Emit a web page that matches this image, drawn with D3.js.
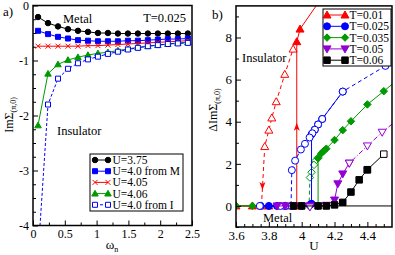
<!DOCTYPE html>
<html>
<head>
<meta charset="utf-8">
<script src="https://cdn.jsdelivr.net/npm/d3@7"></script>
<style>
body { margin: 0; background: #fff; }
svg text { font-family: "Liberation Serif", "Times New Roman", serif; fill: #000; }
</style>
</head>
<body>
<div id="chart"></div>
<script>
// ---- panel a: Im Sigma(pi,0) vs Matsubara frequency, T=0.025
var omegaN = [0.079, 0.236, 0.393, 0.550, 0.707, 0.864, 1.021, 1.178, 1.335, 1.492, 1.649, 1.806, 1.963, 2.120, 2.278, 2.435];
var imU375 = [-0.21, -0.32, -0.38, -0.43, -0.46, -0.48, -0.50, -0.50, -0.51, -0.51, -0.51, -0.51, -0.51, -0.51, -0.51, -0.51];
var imU40M = [-0.46, -0.52, -0.57, -0.60, -0.63, -0.64, -0.65, -0.65, -0.65, -0.64, -0.64, -0.63, -0.62, -0.61, -0.61, -0.60];
var imU405 = [-0.74, -0.74, -0.74, -0.74, -0.74, -0.73, -0.73, -0.72, -0.71, -0.70, -0.69, -0.68, -0.67, -0.66, -0.65, -0.64];
var imU406 = [-2.18, -1.24, -1.07, -0.99, -0.94, -0.90, -0.87, -0.85, -0.82, -0.79, -0.76, -0.74, -0.72, -0.70, -0.68, -0.67];
var imU40I = [-4.55, -1.80, -1.33, -1.15, -1.05, -0.98, -0.93, -0.88, -0.84, -0.80, -0.77, -0.74, -0.72, -0.70, -0.69, -0.68];
var aLabels = ["U=3.75", "U=4.0 from M", "U=4.05", "U=4.06", "U=4.0 from I"];
var aXTicks = [0, 0.5, 1, 1.5, 2, 2.5];
var aYTicks = [-4, -3, -2, -1, 0];

// ---- panel b: Delta Im Sigma(pi,0) vs U, [U, value] pairs
var t001Up = [[3.6, 0], [3.7, 0], [3.8, 0], [3.9, 0], [3.97, 0], [3.97, 7.8], [3.99, 8.4], [4.15, 10.2]];
var t001Down = [[3.755, 0], [3.775, 2.82], [3.80, 3.6], [3.818, 4.18], [3.845, 4.95], [3.897, 6.25], [3.948, 7.45]];
var t0025Up = [[3.75, 0], [3.8, 0], [3.85, 0], [3.9, 0], [3.95, 0], [4.0, 0], [4.05, 0.05], [4.06, 0.1], [4.06, 3.4], [4.08, 3.62], [4.1, 3.87], [4.125, 4.13], [4.25, 5.43]];
var t0025Down = [[4.51, 6.65], [4.25, 5.43], [4.125, 4.13], [4.1, 3.87], [4.08, 3.62], [4.065, 3.45], [4.048, 3.25], [4.02, 2.95], [3.995, 2.68], [3.96, 2.15], [3.94, 1.7], [3.935, 0], [3.9, 0], [3.87, 0], [3.745, 0]];
var t0035Up = [[3.6, 0], [3.7, 0], [3.8, 0], [3.85, 0], [3.9, 0], [3.95, 0], [4.0, 0], [4.05, 0], [4.1, 0], [4.1, 2.26], [4.12, 2.5], [4.135, 2.62], [4.15, 2.72], [4.2, 3.13], [4.25, 3.6], [4.3, 4.02], [4.4, 4.82], [4.5, 5.45], [4.6, 6.1]];
var t0035Down = [[4.1, 2.3], [4.085, 2.15], [4.075, 1.95], [4.06, 1.6], [4.05, 1.35], [4.045, 0]];
var t005Up = [[3.85, 0], [3.9, 0], [3.95, 0], [4.0, 0], [4.05, 0], [4.1, 0], [4.15, 0.03], [4.2, 0.28], [4.22, 1.05], [4.25, 1.52], [4.29, 2.03]];
var t005Down = [[4.6, 4.2], [4.49, 3.5], [4.4, 2.85], [4.29, 2.03]];
var t005Lone = [[4.05, -0.05]];
var t006Up = [[3.95, 0], [4.0, 0], [4.1, 0], [4.15, 0], [4.2, 0.05], [4.25, 0.17], [4.3, 0.66], [4.35, 1.24], [4.4, 1.72]];
var t006Down = [[4.5, 2.46], [4.4, 1.72]];
var bLabels = ["T=0.01", "T=0.025", "T=0.035", "T=0.05", "T=0.06"];
var bXTicks = [3.6, 3.8, 4, 4.2, 4.4];
var bYTicks = [0, 2, 4, 6, 8];
var hysteresisArrows = [[3.97, 3.95, "up"], [3.761, 0.76, "down"]];

var green = "#009a00", violet = "#9400d3";

var svg = d3.select("#chart").append("svg")
  .attr("width", 395)
  .attr("height", 255);

// marker shapes, roughly like xmgrace symbols
function markerPath(type, cx, cy, s) {
  var r = s / 2;
  if (type == "circle") {
    return "M" + (cx + r) + "," + cy + "A" + r + "," + r + " 0 1,1 " + (cx - r) + "," + cy + "A" + r + "," + r + " 0 1,1 " + (cx + r) + "," + cy + "Z";
  }
  if (type == "square") return "M" + (cx - r) + "," + (cy - r) + "h" + s + "v" + s + "h" + (-s) + "Z";
  if (type == "diamond") return "M" + cx + "," + (cy - r) + "L" + (cx + r) + "," + cy + "L" + cx + "," + (cy + r) + "L" + (cx - r) + "," + cy + "Z";
  if (type == "triUp") return "M" + cx + "," + (cy - r) + "L" + (cx + r) + "," + (cy + r * 0.75) + "L" + (cx - r) + "," + (cy + r * 0.75) + "Z";
  if (type == "triDown") return "M" + cx + "," + (cy + r) + "L" + (cx + r) + "," + (cy - r * 0.75) + "L" + (cx - r) + "," + (cy - r * 0.75) + "Z";
  // cross
  return "M" + (cx - r) + "," + (cy - r) + "L" + (cx + r) + "," + (cy + r) + "M" + (cx - r) + "," + (cy + r) + "L" + (cx + r) + "," + (cy - r);
}

function drawSeries(g, pts, x, y, st) {
  g.append("path")
    .datum(pts)
    .attr("fill", "none")
    .attr("stroke", st.color)
    .attr("stroke-width", 1)
    .attr("stroke-dasharray", st.dash || null)
    .attr("d", d3.line().x(d => x(d[0])).y(d => y(d[1])));
  g.selectAll(null)
    .data(pts)
    .enter()
    .append("path")
    .attr("d", d => markerPath(st.mark, x(d[0]), y(d[1]), st.size))
    .attr("fill", st.mark == "cross" ? "none" : (st.fill ? st.color : "#fff"))
    .attr("stroke", st.color)
    .attr("stroke-width", 1);
}

function drawAxes(x, y, xMaj, xMin, yMaj, yMin, fs) {
  var x0 = x.range()[0], x1 = x.range()[1], y0 = y.range()[0], y1 = y.range()[1];
  var fmt = d => String(d);
  [[xMin, 3, ""], [xMaj, 5, fmt]].forEach(function(t) {
    svg.append("g")
      .attr("transform", "translate(0," + y0 + ")")
      .call(d3.axisBottom(x).tickValues(t[0]).tickSize(-t[1]).tickPadding(4).tickFormat(t[2] || (() => "")))
      .call(a => a.select(".domain").remove())
      .attr("font-family", "Liberation Serif")
      .attr("font-size", fs);
  });
  [[yMin, 3, ""], [yMaj, 5, fmt]].forEach(function(t) {
    svg.append("g")
      .attr("transform", "translate(" + x0 + ",0)")
      .call(d3.axisLeft(y).tickValues(t[0]).tickSize(-t[1]).tickPadding(4).tickFormat(t[2] || (() => "")))
      .call(a => a.select(".domain").remove())
      .attr("font-family", "Liberation Serif")
      .attr("font-size", fs);
  });
  svg.append("rect")
    .attr("x", x0).attr("y", y1)
    .attr("width", x1 - x0).attr("height", y0 - y1)
    .attr("fill", "none")
    .attr("stroke", "#000")
    .attr("stroke-width", 1.5);
}

function clipFor(id, x, y) {
  svg.append("clipPath").attr("id", id)
    .append("rect")
    .attr("x", x.range()[0]).attr("y", y.range()[1])
    .attr("width", x.range()[1] - x.range()[0])
    .attr("height", y.range()[0] - y.range()[1]);
  return svg.append("g").attr("clip-path", "url(#" + id + ")");
}

function addText(x, y, s, size, anchor) {
  return svg.append("text").attr("x", x).attr("y", y)
    .attr("font-size", size).attr("text-anchor", anchor || "start").text(s);
}

function legend(entries, bx, by, bw, bh, lx0, lx1, rowY, dy, fs) {
  svg.append("rect").attr("x", bx).attr("y", by).attr("width", bw).attr("height", bh)
    .attr("fill", "#fff").attr("stroke", "#000").attr("stroke-width", 1);
  entries.forEach(function(e, i) {
    var yy = rowY + i * dy;
    var g = svg.append("g");
    var lx = d3.scaleLinear().range([lx0, lx1]);
    drawSeries(g, [[0, yy], [1, yy]], lx, v => v, e.st);
    addText(lx1 + 4.5, yy + 4, e.label, fs);
  });
}

// ================= panel a =================
var ax = d3.scaleLinear().domain([0, 2.5]).range([33, 192]);
var ay = d3.scaleLinear().domain([-4, 0]).range([225.5, 5.5]);

var aStyles = [
  {color: "#000", mark: "circle", size: 5.5, fill: true},
  {color: "#0000ff", mark: "square", size: 5, fill: true},
  {color: "#ff0000", mark: "cross", size: 5},
  {color: green, mark: "triUp", size: 6.5, fill: true},
  {color: "#0000ff", mark: "square", size: 5, fill: false, dash: "3,2"}
];
var aValues = [imU375, imU40M, imU405, imU406, imU40I];

var ga = clipFor("clipA", ax, ay);
aValues.forEach(function(vals, i) {
  var pts = vals.map((v, j) => [omegaN[j], v]);
  drawSeries(ga, pts, ax, ay, aStyles[i]);
});

drawAxes(ax, ay, aXTicks, d3.range(0.25, 2.5, 0.5), aYTicks, d3.range(-3.75, 0, 0.25).filter(v => Math.abs(v - Math.round(v)) > 0.01), 12);

addText(63, 23, "Metal", 12.5);
addText(186, 22, "T=0.025", 12.5, "end");
addText(57, 135, "Insulator", 12.5);
addText(3, 16, "a)", 13);

legend(aLabels.map((l, i) => ({label: l, st: aStyles[i]})), 90, 154, 93, 57, 95, 108, 160, 11.2, 11.5);

var aYLab = svg.append("text").attr("transform", "translate(13,115) rotate(-90)")
  .attr("text-anchor", "middle").attr("font-size", 12);
aYLab.append("tspan").text("ImΣ");
aYLab.append("tspan").attr("font-size", 8).attr("dy", 3).text("(π,0)");

var aXLab = svg.append("text").attr("x", 112).attr("y", 249).attr("text-anchor", "middle").attr("font-size", 13);
aXLab.append("tspan").text("ω");
aXLab.append("tspan").attr("font-size", 8).attr("dy", 3).text("n");

// ================= panel b =================
var bx = d3.scaleLinear().domain([3.6, 4.55]).range([236, 392]);
var by = d3.scaleLinear().domain([-1, 9.5]).range([227, 5.9]);

var gb = clipFor("clipB", bx, by);
gb.append("line")
  .attr("x1", bx(3.6)).attr("x2", bx(4.55))
  .attr("y1", by(0)).attr("y2", by(0))
  .attr("stroke", "#000").attr("stroke-width", 1);

var dash = "4,3";
var bStyles = [
  {color: "#ff0000", mark: "triUp", size: 8, fill: true},
  {color: "#0000ff", mark: "circle", size: 7, fill: true},
  {color: green, mark: "diamond", size: 7.5, fill: true},
  {color: violet, mark: "triDown", size: 8, fill: true},
  {color: "#000", mark: "square", size: 6.5, fill: true}
];
function openOf(st, d) { return Object.assign({}, st, {fill: false, dash: d}); }

drawSeries(gb, t001Down, bx, by, openOf(bStyles[0], dash));
drawSeries(gb, t001Up, bx, by, bStyles[0]);
drawSeries(gb, t0035Down, bx, by, openOf(bStyles[2], dash));
drawSeries(gb, t0035Up, bx, by, bStyles[2]);
drawSeries(gb, t0025Up, bx, by, bStyles[1]);
drawSeries(gb, t0025Down, bx, by, openOf(bStyles[1], dash));
drawSeries(gb, t005Up, bx, by, bStyles[3]);
drawSeries(gb, t005Down, bx, by, openOf(bStyles[3], "5,2,1,2"));
drawSeries(gb, t005Lone, bx, by, openOf(bStyles[3], null));
drawSeries(gb, t006Down, bx, by, openOf(bStyles[4], null));
drawSeries(gb, t006Up, bx, by, bStyles[4]);

// hysteresis arrows
gb.selectAll(null)
  .data(hysteresisArrows)
  .enter()
  .append("path")
  .attr("fill", "#ff0000")
  .attr("d", function(d) {
    var px = bx(d[0]), py = by(d[1]), s = d[2] == "up" ? 1 : -1;
    return "M" + px + "," + py + "L" + (px + 3) + "," + (py + 8 * s) + "L" + px + "," + (py + 6 * s) + "L" + (px - 3) + "," + (py + 8 * s) + "Z";
  });

drawAxes(bx, by, bXTicks, d3.range(3.65, 4.55, 0.05).filter(v => Math.abs(v * 5 - Math.round(v * 5)) > 0.01), bYTicks, [-1, 1, 3, 5, 7, 9], 13);

addText(242, 62, "Insulator", 12.5);
addText(263, 222, "Metal", 12.5);
addText(212, 19, "b)", 13);

legend(bLabels.map((l, i) => ({label: l, st: bStyles[i]})), 323, 9, 68, 57, 327, 345, 15, 11.3, 11.5);

var bYLab = svg.append("text").attr("transform", "translate(217,110) rotate(-90)")
  .attr("text-anchor", "middle").attr("font-size", 12);
bYLab.append("tspan").text("ΔImΣ");
bYLab.append("tspan").attr("font-size", 8).attr("dy", 3).text("(π,0)");

addText(314, 250, "U", 13, "middle");
</script>
</body>
</html>
